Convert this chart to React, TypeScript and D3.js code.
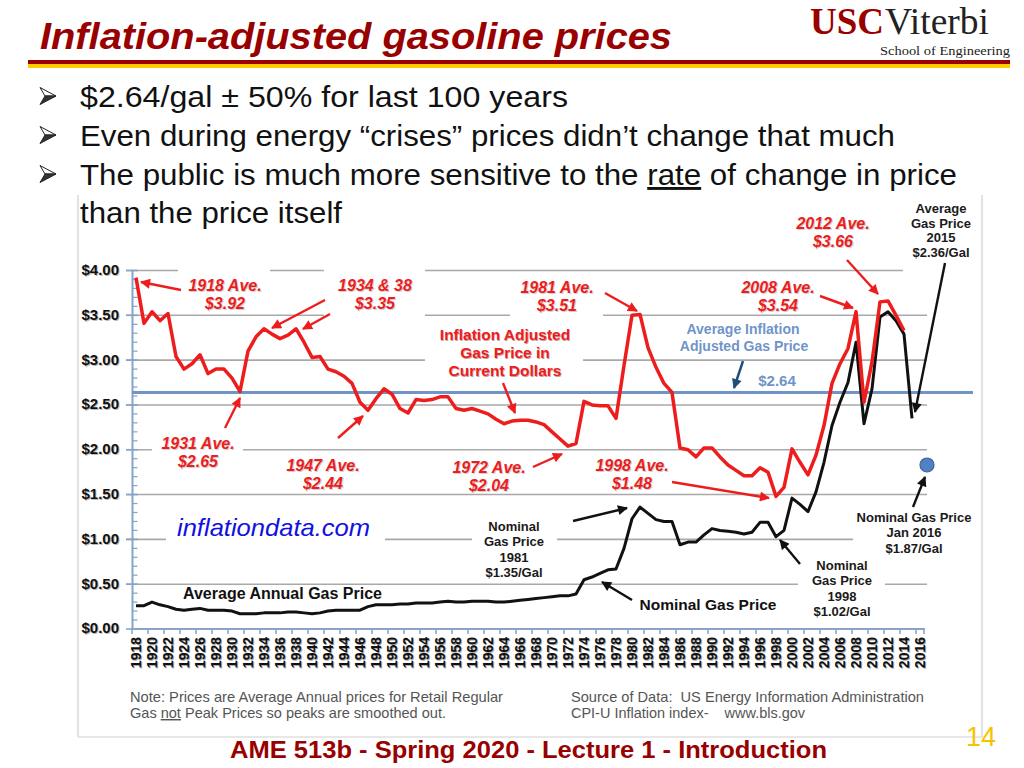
import React from "react";
import * as d3 from "d3";

// ---------- DATA ----------
const startYear = 1918;
// Inflation adjusted average annual price, 1918..2014 ($/gal)
const realPrice = [
  3.92, 3.41, 3.54, 3.44, 3.52, 3.04, 2.9, 2.96, 3.06, 2.85,
  2.9, 2.9, 2.8, 2.65, 3.1, 3.26, 3.35, 3.29, 3.24, 3.28,
  3.35, 3.2, 3.03, 3.04, 2.9, 2.87, 2.82, 2.74, 2.53, 2.44,
  2.57, 2.68, 2.62, 2.46, 2.41, 2.56, 2.55, 2.56, 2.59, 2.59,
  2.46, 2.44, 2.46, 2.43, 2.4, 2.34, 2.29, 2.32, 2.33, 2.33,
  2.31, 2.28, 2.2, 2.12, 2.04, 2.07, 2.54, 2.5, 2.49, 2.49,
  2.35, 2.94, 3.5, 3.51, 3.14, 2.92, 2.74, 2.64, 2.02, 2.0,
  1.92, 2.02, 2.02, 1.92, 1.83, 1.77, 1.71, 1.71, 1.8, 1.75,
  1.48, 1.58, 2.01, 1.86, 1.72, 1.94, 2.27, 2.74, 2.96, 3.13,
  3.54, 2.53, 2.98, 3.65, 3.66, 3.5, 3.33,
];
// Nominal average annual price, 1918..2015 ($/gal)
const nominalPrice = [
  0.26, 0.26, 0.3, 0.27, 0.25, 0.22, 0.21, 0.22, 0.23, 0.21,
  0.21, 0.21, 0.2, 0.17, 0.17, 0.17, 0.18, 0.18, 0.18, 0.19,
  0.19, 0.18, 0.17, 0.18, 0.2, 0.21, 0.21, 0.21, 0.21, 0.25,
  0.27, 0.27, 0.27, 0.28, 0.28, 0.29, 0.29, 0.29, 0.3, 0.31,
  0.3, 0.3, 0.31, 0.31, 0.31, 0.3, 0.3, 0.31, 0.32, 0.33,
  0.34, 0.35, 0.36, 0.37, 0.37, 0.39, 0.55, 0.58, 0.62, 0.66,
  0.67, 0.9, 1.23, 1.36, 1.29, 1.22, 1.2, 1.2, 0.94, 0.97,
  0.97, 1.05, 1.12, 1.1, 1.09, 1.08, 1.06, 1.08, 1.19, 1.19,
  1.03, 1.1, 1.46, 1.39, 1.31, 1.53, 1.86, 2.27, 2.53, 2.75,
  3.2, 2.29, 2.68, 3.48, 3.54, 3.44, 3.29, 2.35,
];
const averageReal = 2.64;
const jan2016Year = 2017;
const jan2016Nominal = 1.83;
const yTickValues = [0, 0.5, 1, 1.5, 2, 2.5, 3, 3.5, 4];
const yTickLabels = ["$0.00", "$0.50", "$1.00", "$1.50", "$2.00", "$2.50", "$3.00", "$3.50", "$4.00"];
const xTickLabels = [
  "1918", "1920", "1922", "1924", "1926", "1928", "1930", "1932", "1934", "1936",
  "1938", "1940", "1942", "1944", "1946", "1948", "1950", "1952", "1954", "1956",
  "1958", "1960", "1962", "1964", "1966", "1968", "1970", "1972", "1974", "1976",
  "1978", "1980", "1982", "1984", "1986", "1988", "1990", "1992", "1994", "1996",
  "1998", "2000", "2002", "2004", "2006", "2008", "2010", "2012", "2014", "2016",
];

// ---------- STYLE ----------
const SANS = "'Liberation Sans', Arial, Helvetica, sans-serif";
const SERIF = "'Liberation Serif', 'Times New Roman', serif";
const DARKRED = "#990000";
const RED = "#ee1d1d";
const AXISBLUE = "#86a3c9";
const AVGBLUE = "#7094c8";

const x = d3.scaleLinear().domain([1918, 2016]).range([136, 920]);
const y = d3.scaleLinear().domain([0, 4]).range([629, 270.5]);

const seriesLine = d3
  .line<number>()
  .x((_, i) => x(startYear + i))
  .y((d) => y(d))
  .curve(d3.curveLinear);

const redLabels = [
  { lines: ["1918 Ave.", "$3.92"], x: 225, y: 291 },
  { lines: ["1934 & 38", "$3.35"], x: 375, y: 291 },
  { lines: ["1981 Ave.", "$3.51"], x: 557, y: 293 },
  { lines: ["2008 Ave.", "$3.54"], x: 778, y: 293 },
  { lines: ["2012 Ave.", "$3.66"], x: 833, y: 229 },
  { lines: ["1931 Ave.", "$2.65"], x: 198, y: 449 },
  { lines: ["1947 Ave.", "$2.44"], x: 323, y: 471 },
  { lines: ["1972 Ave.", "$2.04"], x: 489, y: 473 },
  { lines: ["1998 Ave.", "$1.48"], x: 632, y: 471 },
];
const redArrows = [
  [181, 290, 141, 282],
  [325, 300, 272, 328],
  [330, 314, 303, 329],
  [605, 293, 637, 311],
  [820, 296, 853, 308],
  [847, 260, 878, 294],
  [225, 428, 240, 398],
  [338, 438, 363, 416],
  [533, 467, 562, 454],
  [672, 482, 769, 498],
  [503, 383, 515, 413],
];
const blackLabels = [
  { lines: ["Average", "Gas Price", "2015", "$2.36/Gal"], x: 941, y: 213, lh: 14.5 },
  { lines: ["Nominal", "Gas Price", "1981", "$1.35/Gal"], x: 514, y: 531, lh: 15.3 },
  { lines: ["Nominal", "Gas Price", "1998", "$1.02/Gal"], x: 842, y: 570, lh: 15.3 },
  { lines: ["Nominal Gas Price", "Jan 2016", "$1.87/Gal"], x: 914, y: 522, lh: 15.3 },
];
const blackArrows = [
  [945, 263, 915, 412],
  [573, 521, 627, 508],
  [632, 600, 602, 582],
  [800, 564, 780, 540],
  [913, 507, 925, 477],
];
const whiteBoxes = [
  [178, 262, 92, 50],
  [324, 262, 101, 58],
  [510, 280, 93, 40],
  [425, 322, 158, 63],
  [152, 432, 91, 40],
  [166, 515, 219, 30],
  [472, 518, 85, 62],
  [798, 558, 87, 62],
  [853, 508, 122, 48],
  [903, 198, 77, 78],
];

function Arrow({ a, color, id }: { a: number[]; color: string; id: string }) {
  return (
    <line x1={a[0]} y1={a[1]} x2={a[2]} y2={a[3]} stroke={color} strokeWidth={2.4} markerEnd={`url(#${id})`} />
  );
}

function Bullet({ m }: { m: number }) {
  return (
    <g stroke="#222" strokeWidth={1} strokeLinejoin="round">
      <path d={`M40,${m - 8.5} L56,${m} L45,${m} Z`} fill="#fff" />
      <path d={`M45,${m} L56,${m} L40,${m + 8.5} Z`} fill="#333" />
    </g>
  );
}

export default function App() {
  const minorTicks: number[] = [];
  for (let i = 0; i <= 40; i++) if (i % 5 !== 0) minorTicks.push(i / 10);

  return (
    <svg width={1024} height={768} style={{ position: "absolute", left: 0, top: 0, background: "#fff" }}>
      <defs>
        {[
          ["ahRed", RED],
          ["ahBlack", "#111"],
          ["ahBlue", "#1f4e79"],
        ].map(([id, c]) => (
          <marker key={id} id={id} viewBox="0 0 10 10" refX={9} refY={5} markerWidth={11} markerHeight={10} markerUnits="userSpaceOnUse" orient="auto">
            <path d="M0,0 L10,5 L0,10 z" fill={c} />
          </marker>
        ))}
      </defs>
      <rect x={0} y={0} width={1024} height={768} fill="#fff" />

      {/* Title */}
      <text x={40} y={49} fontFamily={SANS} fontWeight="bold" fontStyle="italic" fontSize={37} fill={DARKRED} textLength={632} lengthAdjust="spacingAndGlyphs">
        Inflation-adjusted gasoline prices
      </text>
      <rect x={28} y={60} width={982} height={4} fill={DARKRED} />
      <rect x={28} y={64} width={982} height={4} fill="#ffcc00" />

      {/* Logo */}
      <text x={810} y={34} fontFamily={SERIF} fontWeight="bold" fontSize={38} fill={DARKRED} textLength={74} lengthAdjust="spacingAndGlyphs">USC</text>
      <text x={885} y={34} fontFamily={SERIF} fontSize={38} fill="#222" textLength={104} lengthAdjust="spacingAndGlyphs">Viterbi</text>
      <text x={880} y={55} fontFamily={SERIF} fontSize={13.5} fill="#222" textLength={130} lengthAdjust="spacingAndGlyphs">School of Engineering</text>

      {/* Bullets */}
      {[96, 135, 174].map((m) => (
        <Bullet key={m} m={m} />
      ))}
      <text x={80} y={107} fontFamily={SANS} fontSize={29} fill="#111" textLength={488} lengthAdjust="spacingAndGlyphs">$2.64/gal ± 50% for last 100 years</text>
      <text x={80} y={146} fontFamily={SANS} fontSize={29} fill="#111" textLength={815} lengthAdjust="spacingAndGlyphs">Even during energy “crises” prices didn’t change that much</text>

      {/* Chart frame */}
      <line x1={78} y1={195} x2={78} y2={737} stroke="#cfcfcf" strokeWidth={1.2} />
      <line x1={78} y1={737} x2={982} y2={737} stroke="#cfcfcf" strokeWidth={1.2} />
      <line x1={982} y1={195} x2={982} y2={737} stroke="#cfcfcf" strokeWidth={1.2} />

      <text x={80} y={185} fontFamily={SANS} fontSize={29} fill="#111" textLength={877} lengthAdjust="spacingAndGlyphs">
        The public is much more sensitive to the <tspan textDecoration="underline">rate</tspan> of change in price
      </text>
      <text x={80} y={223} fontFamily={SANS} fontSize={29} fill="#111" textLength={262} lengthAdjust="spacingAndGlyphs">than the price itself</text>

      {/* Gridlines */}
      {yTickValues.filter((v) => v > 0).map((v) => (
        <line key={v} x1={126} x2={927} y1={y(v)} y2={y(v)} stroke="#a9a9a9" strokeWidth={1.6} />
      ))}
      {whiteBoxes.map((b, i) => (
        <rect key={i} x={b[0]} y={b[1]} width={b[2]} height={b[3]} fill="#fff" />
      ))}

      {/* Axes */}
      <line x1={132.5} x2={132.5} y1={y(4)} y2={y(0)} stroke={AXISBLUE} strokeWidth={2} />
      {yTickValues.map((v) => (
        <line key={v} x1={126} x2={138} y1={y(v)} y2={y(v)} stroke={AXISBLUE} strokeWidth={1.6} />
      ))}
      {minorTicks.map((v) => (
        <line key={v} x1={132.5} x2={137.5} y1={y(v)} y2={y(v)} stroke={AXISBLUE} strokeWidth={1.2} />
      ))}
      <line x1={132} x2={925} y1={y(0)} y2={y(0)} stroke={AXISBLUE} strokeWidth={2} />
      {xTickLabels.map((t) => (
        <line key={t} x1={x(+t) - 4} x2={x(+t) - 4} y1={y(0)} y2={y(0) + 5} stroke={AXISBLUE} strokeWidth={1.5} />
      ))}
      <line x1={x(2016) + 4} x2={x(2016) + 4} y1={y(0)} y2={y(0) + 5} stroke={AXISBLUE} strokeWidth={1.5} />

      {yTickValues.map((v, i) => (
        <g key={v} fontFamily={SANS} fontWeight="bold" fontSize={15} textAnchor="end">
          <text x={120} y={y(v)} dy="0.36em" fill="#bbb">{yTickLabels[i]}</text>
          <text x={119} y={y(v) - 1} dy="0.36em" fill="#111">{yTickLabels[i]}</text>
        </g>
      ))}
      {xTickLabels.map((t) => (
        <g key={t} fontFamily={SANS} fontWeight="bold" fontSize={14} textAnchor="end">
          <text transform={`translate(${x(+t) + 1},${638}) rotate(-90)`} dy="0.35em" fill="#aaa">{t}</text>
          <text transform={`translate(${x(+t)},${637}) rotate(-90)`} dy="0.35em" fill="#111">{t}</text>
        </g>
      ))}

      {/* Average line */}
      <line x1={132} x2={973} y1={y(averageReal)} y2={y(averageReal)} stroke={AVGBLUE} strokeWidth={3} />

      {/* Data lines */}
      <path d={seriesLine(nominalPrice) || ""} fill="none" stroke="#111" strokeWidth={3} strokeLinejoin="round" />
      <path d={seriesLine(realPrice) || ""} fill="none" stroke={RED} strokeWidth={3.5} strokeLinejoin="round" />
      <circle cx={x(jan2016Year) - 1} cy={y(jan2016Nominal)} r={7} fill="#4f81c4" stroke="#3a64a0" strokeWidth={1.2} />

      {/* Red annotations */}
      {redLabels.map((l, i) => (
        <g key={i} fontFamily={SANS} fontWeight="bold" fontStyle="italic" fontSize={16} textAnchor="middle">
          {l.lines.map((s, j) => (
            <React.Fragment key={j}>
              <text x={l.x + 1} y={l.y + j * 18 + 1} fill="#d0d0d0">{s}</text>
              <text x={l.x} y={l.y + j * 18} fill={RED}>{s}</text>
            </React.Fragment>
          ))}
        </g>
      ))}
      <g fontFamily={SANS} fontWeight="bold" fontSize={15.5} textAnchor="middle">
        {["Inflation Adjusted", "Gas Price in", "Current Dollars"].map((s, j) => (
          <React.Fragment key={j}>
            <text x={505.7} y={340.7 + j * 18} fill="#c8a0a0">{s}</text>
            <text x={505} y={340 + j * 18} fill={RED}>{s}</text>
          </React.Fragment>
        ))}
      </g>
      {redArrows.map((a, i) => (
        <Arrow key={i} a={a} color={RED} id="ahRed" />
      ))}

      {/* Blue annotations */}
      <g fontFamily={SANS} fontWeight="bold" fontSize={14} textAnchor="middle" fill={AVGBLUE}>
        <text x={743} y={334}>Average Inflation</text>
        <text x={744} y={351}>Adjusted Gas Price</text>
        <text x={777} y={386} fontSize={15}>$2.64</text>
      </g>
      <Arrow a={[743, 361, 734, 388]} color="#1f4e79" id="ahBlue" />

      {/* Black annotations */}
      {blackLabels.map((l, i) => (
        <g key={i} fontFamily={SANS} fontWeight="bold" fontSize={13} textAnchor="middle" fill="#1a1a1a">
          {l.lines.map((s, j) => (
            <text key={j} x={l.x} y={l.y + j * l.lh}>{s}</text>
          ))}
        </g>
      ))}
      <text x={708} y={610} fontFamily={SANS} fontWeight="bold" fontSize={15.5} textAnchor="middle" fill="#111">Nominal Gas Price</text>
      <text x={183} y={599} fontFamily={SANS} fontWeight="bold" fontSize={16} fill="#111" textLength={199} lengthAdjust="spacingAndGlyphs">Average Annual Gas Price</text>
      {blackArrows.map((a, i) => (
        <Arrow key={i} a={a} color="#111" id="ahBlack" />
      ))}

      <text x={177} y={536} fontFamily={SANS} fontStyle="italic" fontSize={24} fill="#1010e0" textLength={193} lengthAdjust="spacingAndGlyphs">inflationdata.com</text>

      {/* Notes */}
      <g fontFamily={SANS} fontSize={14.5} fill="#555">
        <text x={130} y={702} textLength={373} lengthAdjust="spacingAndGlyphs">Note: Prices are Average Annual prices for Retail Regular</text>
        <text x={130} y={718} textLength={316} lengthAdjust="spacingAndGlyphs">
          Gas <tspan textDecoration="underline">not</tspan> Peak Prices so peaks are smoothed out.
        </text>
        <text x={571} y={702} textLength={353} lengthAdjust="spacingAndGlyphs" xmlSpace="preserve" style={{ whiteSpace: "pre" }}>{"Source of Data:  US Energy Information Administration"}</text>
        <text x={571} y={718} textLength={234} lengthAdjust="spacingAndGlyphs" xmlSpace="preserve" style={{ whiteSpace: "pre" }}>{"CPI-U Inflation index-    www.bls.gov"}</text>
      </g>

      {/* Footer */}
      <text x={230} y={758} fontFamily={SANS} fontWeight="bold" fontSize={24} fill={DARKRED} textLength={597} lengthAdjust="spacingAndGlyphs">
        AME 513b - Spring 2020 - Lecture 1 - Introduction
      </text>
      <text x={966} y={746} fontFamily={SANS} fontSize={27} fill="#f5c400">14</text>
    </svg>
  );
}
